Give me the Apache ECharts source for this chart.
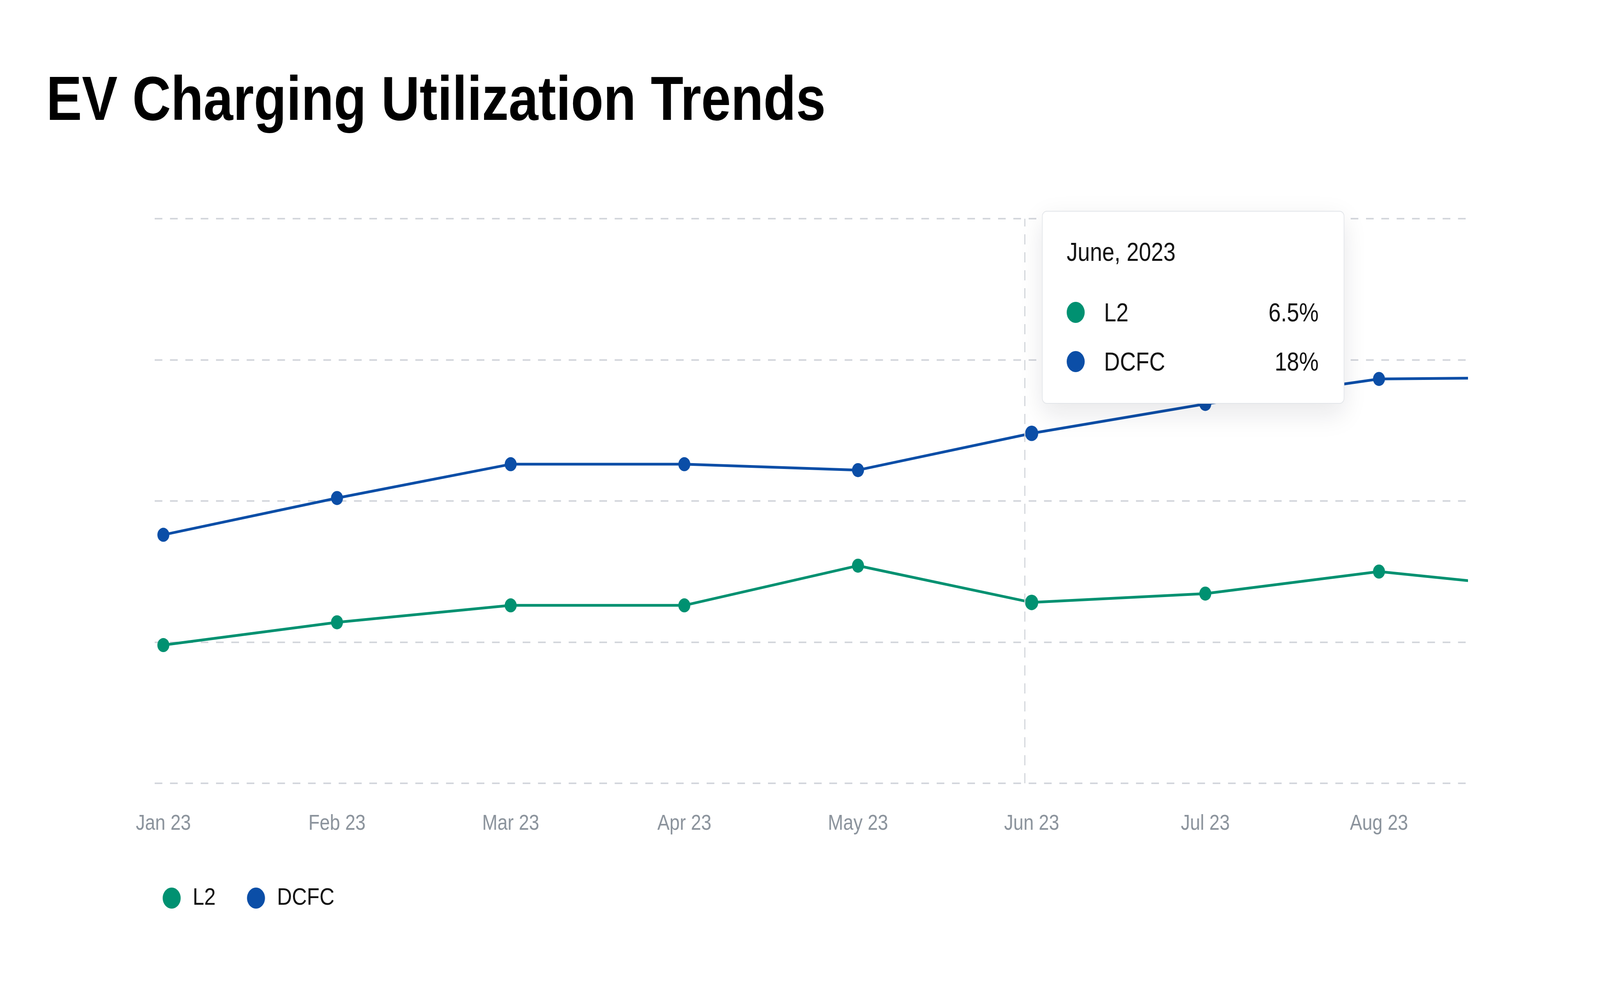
<!DOCTYPE html>
<html>
<head>
<meta charset="utf-8">
<title>EV Charging Utilization Trends</title>
<script src="https://cdn.jsdelivr.net/npm/echarts@6/dist/echarts.min.js"></script>
<style>
  html, body { margin: 0; padding: 0; background: #fff; overflow: hidden; }
  #chart { width: 4800px; height: 2520px; transform-origin: 0 0; }
</style>
</head>
<body>
<div id="chart"></div>
<script>
var months = ['Jan 23', 'Feb 23', 'Mar 23', 'Apr 23', 'May 23', 'Jun 23', 'Jul 23', 'Aug 23', 'Sep 23'];
var monthNames = ['January', 'February', 'March', 'April', 'May', 'June', 'July', 'August', 'September'];
var l2Values = [3.6, 5.15, 6.3, 6.3, 9.0, 6.5, 7.1, 8.6, 7.4];
var dcfcValues = [11.1, 13.6, 15.9, 15.9, 15.5, 18, 20, 21.7, 21.8];
var seriesNames = ['L2', 'DCFC'];
var seriesColors = ['#009171', '#0b4ea7'];
// hovered month and where the cursor line sits on the x scale
var hoverIndex = 5;
var hoverX = 4.965;

var FONT = '"Liberation Sans", Arial, Helvetica, sans-serif';

var dom = document.getElementById('chart');
// the chart is laid out on 4800 x 2520, fit it into the real window
dom.style.transform = 'scale(' + (window.innerWidth / 4800) + ',' + (window.innerHeight / 2520) + ')';

function toPoints(values) {
    return values.map(function(v, i) { return [i, v]; });
}

function lineSeries(name, values, color) {
    return {
        name: name,
        type: 'line',
        xAxisIndex: 1,
        yAxisIndex: 1,
        data: toPoints(values),
        symbol: 'circle',
        symbolSize: 36,
        clip: true,
        lineStyle: { width: 7, color: color },
        itemStyle: { color: color },
        emphasis: { disabled: true }
    };
}

var chart = echarts.init(dom);

var series = [
    lineSeries(seriesNames[0], l2Values, seriesColors[0]),
    lineSeries(seriesNames[1], dcfcValues, seriesColors[1])
];
// dashed hover guide
series[0].markLine = {
    silent: true,
    symbol: 'none',
    label: { show: false },
    lineStyle: { color: '#cfd3d9', width: 3, type: [26, 20] },
    data: [{ xAxis: hoverX }]
};

var option = {
    backgroundColor: '#ffffff',
    animation: false,
    color: seriesColors,
    title: {
        text: 'EV Charging Utilization Trends',
        left: 134,
        top: 178,
        textStyle: { fontFamily: FONT, fontSize: 160, fontWeight: 'bold', color: '#000' }
    },
    legend: {
        data: seriesNames,
        left: 483,
        top: 2264,
        icon: 'circle',
        itemWidth: 54,
        itemHeight: 54,
        itemGap: 94,
        textStyle: { fontFamily: FONT, fontSize: 62, color: '#111', padding: [0, 0, 0, 31] }
    },
    // grid 0 only carries the dashed horizontal guides, grid 1 carries the data
    grid: [
        { left: 464, right: 400, top: 560, bottom: 514 },
        { left: 490, right: 400, top: 560, bottom: 514 }
    ],
    xAxis: [
        { gridIndex: 0, type: 'value', min: 0, max: 1, show: false, axisPointer: { show: false } },
        {
            gridIndex: 1,
            type: 'value',
            min: 0,
            max: 7.505,
            interval: 1,
            axisLine: { show: false },
            axisTick: { show: false },
            splitLine: { show: false },
            axisLabel: {
                margin: 76,
                fontFamily: FONT,
                fontSize: 55,
                color: '#8b939c',
                formatter: function(v) {
                    return Number.isInteger(v) ? months[v] : '';
                }
            }
        }
    ],
    yAxis: [
        {
            gridIndex: 0,
            type: 'value',
            min: 0,
            max: 4,
            interval: 1,
            axisLine: { show: false },
            axisTick: { show: false },
            axisLabel: { show: false },
            axisPointer: { show: false },
            splitLine: { show: true, lineStyle: { color: '#d3d6dc', width: 4, type: [23, 23] } }
        },
        { gridIndex: 1, type: 'value', min: -5.8, max: 32.6, show: false }
    ],
    tooltip: {
        trigger: 'axis',
        triggerOn: 'none',
        alwaysShowContent: true,
        transitionDuration: 0,
        position: [3126, 540],
        backgroundColor: '#ffffff',
        borderColor: '#e2e5e9',
        borderWidth: 2,
        padding: [63, 75, 66, 72],
        extraCssText: 'border-radius:14px; box-shadow:0 24px 70px rgba(15,23,42,0.10);',
        axisPointer: { type: 'none' },
        formatter: function(params) {
            var idx = params[0].dataIndex;
            var year = '20' + months[idx].split(' ')[1];
            var base = 'font-family:' + FONT.replace(/"/g, "'") + ';font-size:66px;line-height:80px;color:#111;';
            var html = '<div style="' + base + '">' + monthNames[idx] + ', ' + year + '</div>';
            html += '<div style="height:75px"></div>';
            params.forEach(function(p, i) {
                if (i > 0) html += '<div style="height:46px"></div>';
                html += '<div style="' + base + 'display:flex;align-items:center;width:756px;height:80px;">' +
                    '<span style="display:inline-block;flex:none;width:54px;height:54px;border-radius:50%;background:' + p.color + ';margin-right:58px"></span>' +
                    '<span style="flex:1">' + p.seriesName + '</span>' +
                    '<span>' + p.value[1] + '%</span></div>';
            });
            return html;
        }
    },
    series: series
};

chart.setOption(option);
// cursor a little left of the hovered month
var px = chart.convertToPixel({ xAxisIndex: 1, yAxisIndex: 1 }, [hoverIndex, dcfcValues[hoverIndex]]);
chart.dispatchAction({ type: 'showTip', x: px[0] - 14, y: 1300 });
</script>
</body>
</html>
